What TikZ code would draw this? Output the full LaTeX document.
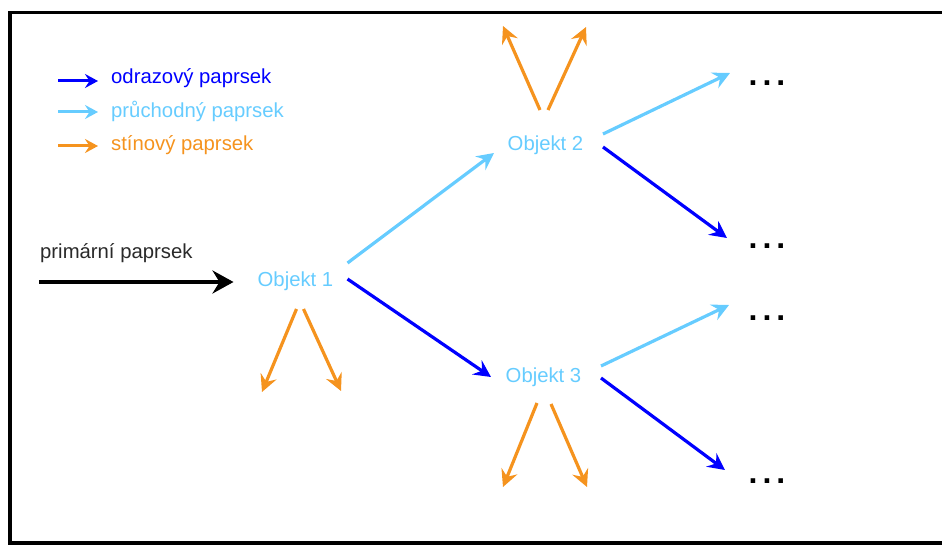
\documentclass[tikz,border=0pt]{standalone}
\usepackage{fontspec}
\setmainfont{Liberation Sans}
\usetikzlibrary{arrows.meta,calc}

\definecolor{reflblue}{HTML}{0000FF}
\definecolor{transblue}{HTML}{66CCFF}
\definecolor{shadoworange}{HTML}{F5931E}
\definecolor{labelgray}{HTML}{2A2A2A}

\tikzset{
  ray/.style={line width=3.2pt, -{Stealth[length=17pt,width=17pt,inset=6pt]}},
  reflray/.style={ray, draw=reflblue},
  transray/.style={ray, draw=transblue},
  shadowray/.style={ray, draw=shadoworange},
  primray/.style={line width=4pt, draw=black, -{Stealth[length=21pt,width=23pt,inset=7pt]}},
  legendray/.style={line width=3pt, -{Stealth[length=13pt,width=14pt,inset=4.5pt]}},
  txt/.style={inner sep=0pt, font=\fontsize{20.3}{24}\selectfont},
  objekt/.style={txt, text=transblue, anchor=base},
  dots/.style={inner sep=0pt, anchor=base, font=\fontsize{32}{36}\bfseries\selectfont},
}
\newcommand{\dotrow}{.\hspace{5pt}.\hspace{5pt}.}

\begin{document}
\begin{tikzpicture}[x=1pt,y=-1pt]
  \useasboundingbox (0,0) rectangle (942,545);
  % outer frame (open to the right)
  \draw[line width=3.5pt] (962,12.5) -- (10,12.5) -- (10,543) -- (962,543);

  % legend
  \coordinate (l1a) at (58,81);  \coordinate (l1b) at (98,81);
  \coordinate (l2a) at (58,112); \coordinate (l2b) at (98,112);
  \coordinate (l3a) at (58,146); \coordinate (l3b) at (98,146);
  \draw[legendray, draw=reflblue] (l1a) -- (l1b);
  \draw[legendray, draw=transblue] (l2a) -- (l2b);
  \draw[legendray, draw=shadoworange] (l3a) -- (l3b);
  \node[txt, anchor=base west, text=reflblue] (t1) at (111,84) {odrazový paprsek};
  \node[txt, anchor=base west, text=transblue] (t2) at (111,118) {průchodný paprsek};
  \node[txt, anchor=base west, text=shadoworange] (t3) at (111,151) {stínový paprsek};

  % primary ray
  \node[txt, anchor=base west, text=labelgray] (prim) at (40,259) {primární paprsek};
  \coordinate (pstart) at (39,282);

  % objects
  \node[objekt] (o1) at (295.5,287) {Objekt 1};
  \node[objekt] (o2) at (545.5,151) {Objekt 2};
  \node[objekt] (o3) at (543.5,382) {Objekt 3};

  % continuation marks
  \node[dots] (d1) at (767,86) {\dotrow};
  \node[dots] (d2) at (767,249) {\dotrow};
  \node[dots] (d3) at (767,320) {\dotrow};
  \node[dots] (d4) at (767,483) {\dotrow};

  \draw[primray] (pstart) -- ($(o1.base)+(-62,-5)$);

  % rays from object 1
  \draw[transray] ($(o1.base)+(52,-24)$) -- ($(o2.base)+(-51.5,2)$);
  \draw[reflray]  ($(o1.base)+(52,-8)$)  -- ($(o3.base)+(-52.5,-5)$);
  \coordinate (s1a) at (262,392);
  \coordinate (s1b) at (341,391);
  \draw[shadowray] ($(o1.base)+(1,22)$) -- (s1a);
  \draw[shadowray] ($(o1.base)+(8,22)$) -- (s1b);

  % rays from object 2
  \coordinate (s2a) at (503,26);
  \coordinate (s2b) at (586,27);
  \draw[shadowray] ($(o2.base)+(-5.5,-41)$) -- (s2a);
  \draw[shadowray] ($(o2.base)+(2.5,-41)$)  -- (s2b);
  \draw[transray] ($(o2.base)+(57.5,-17)$) -- ($(d1.base)+(-37,-13)$);
  \draw[reflray]  ($(o2.base)+(57.5,-4)$)  -- ($(d2.base)+(-40,-11)$);

  % rays from object 3
  \coordinate (s3a) at (503,487);
  \coordinate (s3b) at (587,487);
  \draw[shadowray] ($(o3.base)+(-6.5,21)$) -- (s3a);
  \draw[shadowray] ($(o3.base)+(7.5,22)$)  -- (s3b);
  \draw[transray] ($(o3.base)+(57.5,-16)$) -- ($(d3.base)+(-38,-15)$);
  \draw[reflray]  ($(o3.base)+(57.5,-4)$)  -- ($(d4.base)+(-42,-13)$);
\end{tikzpicture}
\end{document}
